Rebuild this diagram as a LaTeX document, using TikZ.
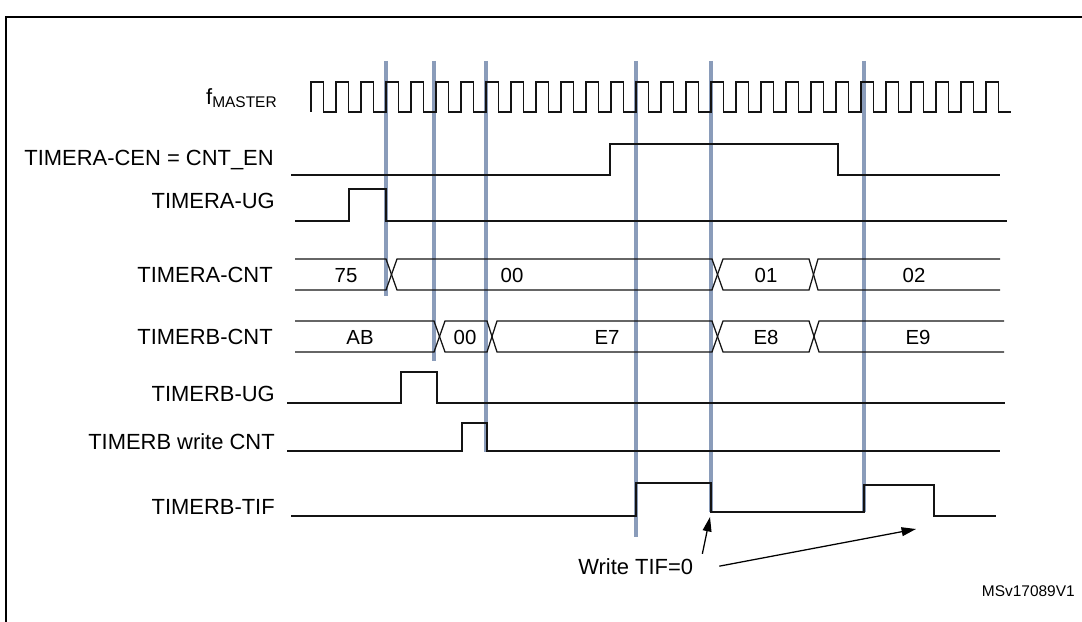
\documentclass[tikz,border=0pt]{standalone}
\usepackage{fontspec}
\setmainfont{Liberation Sans}
\usetikzlibrary{arrows.meta}
\definecolor{syncblue}{RGB}{138,156,186}
\definecolor{wave}{RGB}{20,20,20}

\begin{document}
\begin{tikzpicture}[x=0.025cm, y=-0.025cm,
    sig/.style={draw=wave, line width=1pt},
    bus/.style={draw=wave, line width=0.9pt},
    syncln/.style={draw=syncblue, line width=2.2pt},
    lbl/.style={anchor=base east, inner sep=0pt, font=\fontsize{15.6}{18}\selectfont},
    val/.style={anchor=base, inner sep=0pt, font=\fontsize{14.5}{17}\selectfont},
    arr/.style={-{Triangle[length=3.6mm, width=2.2mm]}, line width=0.9pt}
  ]
  \useasboundingbox (0,0) rectangle (1082,622);
  \draw[line width=1.6pt] (6,622) -- (6,17) -- (1082,17);

  % sync lines
  \foreach \x/\ye in {386/296, 434/361, 486/452, 636/537, 711/512, 864/512}
    \draw[syncln] (\x,61) -- (\x,\ye);

  % labels
  \node[lbl] (fclk) at (277,105) {f\raisebox{-2pt}{\fontsize{11}{12}\selectfont MASTER}};
  \node[lbl] (cen)  at (274,166) {TIMERA-CEN = CNT\_EN};
  \node[lbl] (aug)  at (275,209) {TIMERA-UG};
  \node[lbl] (acnt) at (273,283) {TIMERA-CNT};
  \node[lbl] (bcnt) at (273,344) {TIMERB-CNT};
  \node[lbl] (bug)  at (275,401) {TIMERB-UG};
  \node[lbl] (bwr)  at (275,449) {TIMERB write CNT};
  \node[lbl] (btif) at (275,514) {TIMERB-TIF};

  % clock
  \draw[sig] (311,112) \foreach \k in {1,...,28} { -- ++(0,-30) -- ++(12.5,0) -- ++(0,30) -- ++(12.5,0) };

  % single bits
  \draw[sig] (291,175) -- (610,175) -- (610,144) -- (838,144) -- (838,175) -- (1000,175);
  \draw[sig] (295,221) -- (349,221) -- (349,189) -- (386,189) -- (386,221) -- (1007,221);
  \draw[sig] (287,403) -- (401,403) -- (401,372) -- (437,372) -- (437,403) -- (1005,403);
  \draw[sig] (287,451) -- (462,451) -- (462,423) -- (487,423) -- (487,451) -- (1000,451);
  \draw[sig] (291,516) -- (636,516) -- (636,483) -- (711,483) -- (711,512) -- (864,512)
    -- (864,485) -- (934,485) -- (934,516) -- (996,516);

  % TIMERA-CNT
  \draw[bus] (295,259) -- (386,259) -- (391.5,274.5) -- (386,290) -- (295,290);
  \foreach \a/\b/\c/\d in {391.5/397/712/717.5, 717.5/723/809/813.5}
    \draw[bus] (\a,274.5) -- (\b,259) -- (\c,259) -- (\d,274.5) -- (\c,290) -- (\b,290) -- cycle;
  \draw[bus] (1000,259) -- (818,259) -- (813.5,274.5) -- (818,290) -- (1000,290);
  \node[val] (a75) at (346,283) {75};
  \node[val] (a00) at (512,283) {00};
  \node[val] (a01) at (766,283) {01};
  \node[val] (a02) at (914,283) {02};

  % TIMERB-CNT
  \draw[bus] (295,321) -- (434,321) -- (439.5,336.5) -- (434,352) -- (295,352);
  \foreach \a/\b/\c/\d in {439.5/445/487/492, 492/497/712/717.5, 717.5/723/809/814}
    \draw[bus] (\a,336.5) -- (\b,321) -- (\c,321) -- (\d,336.5) -- (\c,352) -- (\b,352) -- cycle;
  \draw[bus] (1004,321) -- (819,321) -- (814,336.5) -- (819,352) -- (1004,352);
  \node[val] (bab) at (360,344) {AB};
  \node[val] (b00) at (465,344) {00};
  \node[val] (be7) at (607,344) {E7};
  \node[val] (be8) at (766,344) {E8};
  \node[val] (be9) at (918,344) {E9};

  % TIF clear
  \node[lbl, anchor=base west] (wtif) at (578,574) {Write TIF=0};
  \coordinate (tifclr1) at (710,517);
  \coordinate (tifclr2) at (916,529);
  \draw[arr] ([shift={(9,-4)}]wtif.north east) -- (tifclr1);
  \draw[arr] ([shift={(26,0)}]wtif.east) -- (tifclr2);

  \node[anchor=base east, inner sep=0pt, font=\fontsize{11}{13}\selectfont] (figid) at (1075,596) {MSv17089V1};
\end{tikzpicture}
\end{document}
